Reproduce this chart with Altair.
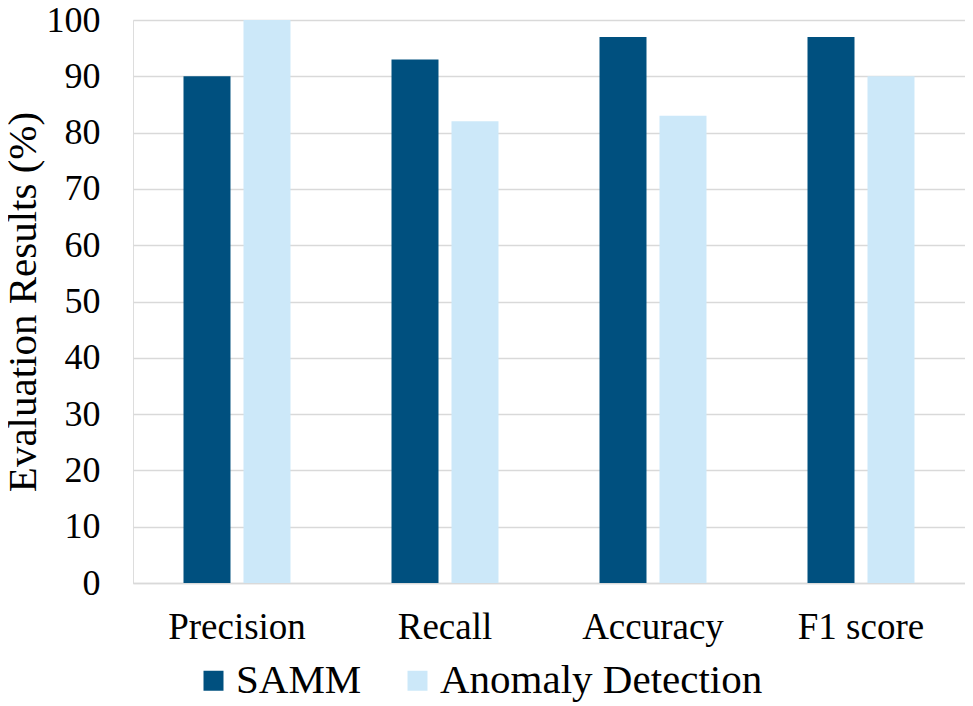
import altair as alt
import pandas as pd

categories = ["Precision", "Recall", "Accuracy", "F1 score"]
series = ["SAMM", "Anomaly Detection"]
samm = [90, 93, 97, 97]
anomaly = [100, 82, 83, 90]
colors = ["#00507f", "#cce8f9"]

rows = []
for c, v in zip(categories, samm):
    rows.append({"Metric": c, "Method": "SAMM", "Value": v})
for c, v in zip(categories, anomaly):
    rows.append({"Metric": c, "Method": "Anomaly Detection", "Value": v})
df = pd.DataFrame(rows)

FONT = "Liberation Serif"

chart = alt.Chart(df).mark_bar().encode(
    x=alt.X("Metric:N", sort=categories, title=None,
            scale=alt.Scale(paddingInner=0.4856, paddingOuter=0.2428),
            axis=alt.Axis(labelAngle=0, labelFont=FONT, labelFontSize=37,
                          labelColor="#000000", labelPadding=26, ticks=False,
                          domainColor="#d9d9d9", domainWidth=1.5, grid=False)),
    xOffset=alt.XOffset("Method:N", sort=series,
                        scale=alt.Scale(paddingInner=0.2167, paddingOuter=0)),
    y=alt.Y("Value:Q", title="Evaluation Results (%)",
            scale=alt.Scale(domain=[0, 100], nice=False),
            axis=alt.Axis(values=list(range(0, 101, 10)), labelFont=FONT,
                          labelFontSize=36, labelColor="#000000", labelPadding=33,
                          ticks=False, domain=False, gridColor="#d9d9d9",
                          gridWidth=1.5, titleFont=FONT, titleFontSize=41,
                          titleFontWeight="normal", titleColor="#000000",
                          titlePadding=2)),
    color=alt.Color("Method:N", sort=series,
                    scale=alt.Scale(domain=series, range=colors),
                    legend=alt.Legend(title=None, orient="none", direction="horizontal",
                                      legendX=60, legendY=640, symbolType="square",
                                      symbolSize=400, symbolStrokeWidth=0,
                                      labelFont=FONT, labelFontSize=41,
                                      labelColor="#000000", labelOffset=2,
                                      columnPadding=35, padding=0,
                                      labelLimit=500)),
).properties(
    width=832, height=563,
    autosize=alt.AutoSizeParams(type="none"),
    padding={"left": 125, "top": 12, "right": 0, "bottom": 123},
).configure_view(stroke=None).configure(
    background="#ffffff", font=FONT,
    style={"guide-label": {"font": FONT}, "guide-title": {"font": FONT}},
).configure_legend(labelFont=FONT)

chart.save("out.html", embed_options={"renderer": "svg", "actions": False})
